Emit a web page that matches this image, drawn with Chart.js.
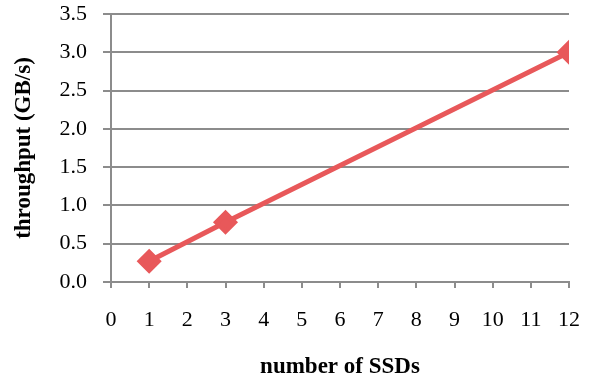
<!DOCTYPE html>
<html>
<head>
<meta charset="utf-8">
<script src="https://cdn.jsdelivr.net/npm/chart.js@4"></script>
<style>
  html, body { margin: 0; padding: 0; background: #fff; }
  #wrap { width: 590px; height: 379px; }
</style>
</head>
<body>
<div id="wrap"><canvas id="ssdChart" width="590" height="379"></canvas></div>
<script>
var ssdCounts = [1, 3, 12];
var throughput = [0.27, 0.78, 3.0];
var yTicks = ['0.0', '0.5', '1.0', '1.5', '2.0', '2.5', '3.0', '3.5'];

var axisGray = '#8c8c8c';
var lineRed = '#e8585a';

var ctx = document.getElementById('ssdChart').getContext('2d');

var ssdChart = new Chart(ctx, {
    type: 'line',
    data: {
        datasets: [{
            label: 'throughput',
            data: ssdCounts.map(function(n, i) {
                return { x: n, y: throughput[i] };
            }),
            borderColor: lineRed,
            backgroundColor: lineRed,
            borderWidth: 5,
            pointStyle: 'rectRot',
            pointRadius: 9,
            pointHoverRadius: 9,
            fill: false,
            tension: 0
        }]
    },
    options: {
        responsive: false,
        animation: false,
        layout: {
            padding: { left: 0, right: 21, top: 14, bottom: 0 }
        },
        plugins: {
            legend: { display: false },
            tooltip: { enabled: false }
        },
        scales: {
            x: {
                type: 'linear',
                min: 0,
                max: 12,
                afterFit: function(scale) {
                    scale.height = 97;
                    scale.paddingLeft = 0;
                    scale.paddingRight = 0;
                },
                ticks: {
                    stepSize: 1,
                    padding: 19,
                    color: '#000',
                    font: { family: 'Liberation Serif', size: 22 }
                },
                grid: {
                    drawOnChartArea: false,
                    drawTicks: true,
                    tickLength: 6,
                    color: axisGray,
                    lineWidth: 2
                },
                border: { display: true, color: axisGray, width: 2 },
                title: {
                    display: true,
                    text: 'number of SSDs',
                    color: '#000',
                    font: { family: 'Liberation Serif', size: 23, weight: 'bold', lineHeight: 1 },
                    padding: { top: 0, bottom: 0 }
                }
            },
            y: {
                min: 0,
                max: 3.5,
                afterFit: function(scale) {
                    scale.width = 111;
                    scale.paddingTop = 0;
                    scale.paddingBottom = 0;
                },
                ticks: {
                    stepSize: 0.5,
                    padding: 16,
                    color: '#000',
                    font: { family: 'Liberation Serif', size: 22 },
                    callback: function(value) {
                        return yTicks[Math.round(value * 2)];
                    }
                },
                grid: {
                    color: axisGray,
                    lineWidth: 2,
                    tickLength: 8
                },
                border: { display: true, color: axisGray, width: 2 },
                title: {
                    display: true,
                    text: 'throughput (GB/s)',
                    color: '#000',
                    font: { family: 'Liberation Serif', size: 23, weight: 'bold', lineHeight: 1 },
                    padding: { top: 13, bottom: 0 }
                }
            }
        }
    }
});
</script>
</body>
</html>
